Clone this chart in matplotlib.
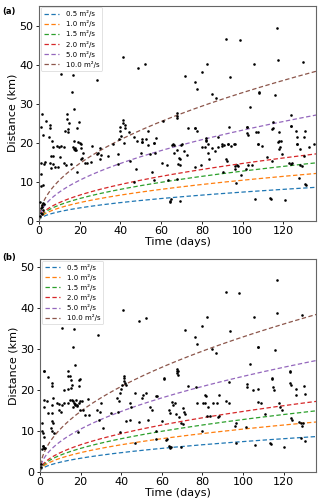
import numpy as np
import matplotlib
matplotlib.use("Agg")
import matplotlib.pyplot as plt

# Diffusivities (m^2/s) for the reference curves
diffusivities = [0.5, 1.0, 1.5, 2.0, 5.0, 10.0]
curve_labels = ["0.5 m²/s", "1.0 m²/s", "1.5 m²/s", "2.0 m²/s", "5.0 m²/s", "10.0 m²/s"]

# Panel (a) observations: time (days), distance (km)
a_time = [10.9, 16.5, 28.3, 16.2, 17.2, 1.5, 13.9, 3.4, 13.6, 5.5, 5.5, 14.7, 19.6, 18.8, 14.2, 12.8,
          14.4, 6.4, 17.2, 19.0, 20.3, 20.6, 41.4, 41.0, 42.0, 42.3, 39.7, 40.0, 44.3, 40.4, 39.4, 41.7,
          41.0, 48.7, 52.1, 116.9, 91.9, 98.6, 117.1, 129.6, 82.5, 105.8, 80.1, 71.5, 93.7, 76.7, 77.5,
          84.8, 86.8, 107.9, 107.9, 115.9, 103.6, 67.9, 67.9, 67.9, 61.1, 123.7, 114.8, 114.8, 123.7,
          73.1, 76.8, 93.3, 102.2, 53.3, 46.6, 50.7, 52.3, 50.4, 57.2, 56.6, 76.8, 77.8, 82.1, 82.1,
          88.1, 83.0, 65.9, 70.3, 102.0, 102.2, 102.8, 106.3, 107.6, 114.6, 117.6, 123.7, 126.4, 130.6,
          126.7, 130.3, 117.6, 118.7, 107.4, 89.8, 93.0, 95.8, 126.5,
          7.0, 8.7, 9.8, 10.9, 12.1, 16.5, 17.2, 17.5, 17.8, 18.2, 20.4, 21.4, 25.8, 30.1, 28.9, 30.4,
          38.7, 36.4, 5.7, 6.9, 10.5, 1.1, 2.5, 2.8, 5.4, 7.0, 7.7, 6.0, 9.3, 12.4, 13.2, 15.8, 18.8,
          22.7, 23.4, 25.6, 21.1, 20.4, 28.4, 29.8, 33.8, 38.7, 44.8, 2.1, 0.8, 1.2, 2.0, 5.0, 1.2,
          0.5, 0.8, 1.0, 1.3, 1.6, 1.9, 2.2, 2.5, 0.7, 1.4,
          47.9, 50.7, 53.6, 56.4, 65.1, 66.2, 69.6, 49.9, 54.4, 56.9, 66.4, 67.8, 68.5, 69.2, 71.0,
          72.7, 60.3, 62.8, 68.3, 69.2, 76.7, 79.6, 79.8, 81.3, 82.2, 84.8, 86.2, 87.8, 89.8, 90.9,
          83.0, 83.4, 47.4, 55.6, 56.7, 46.6, 63.5, 67.7, 64.4, 64.1, 65.0, 69.2,
          93.0, 94.2, 96.0, 107.4, 109.7, 117.2, 118.2, 117.6, 126.7, 127.9, 132.6, 134.9, 130.0,
          111.7, 114.4, 119.5, 91.7, 92.5, 96.3, 97.3, 97.9, 96.3, 102.8, 104.8, 101.7, 99.2, 122.9,
          124.1, 123.7, 128.3, 129.0, 90.4, 127.7, 130.6, 130.9, 96.6, 106.1, 113.4, 113.9, 120.6]
a_dist = [37.8, 37.5, 36.1, 33.0, 28.7, 27.4, 27.5, 25.7, 26.2, 24.5, 23.8, 25.1, 25.4, 23.9, 23.6, 23.0,
          22.8, 20.6, 20.6, 20.3, 20.0, 19.8, 25.9, 25.1, 24.6, 23.9, 24.0, 23.2, 22.9, 21.8, 21.0, 19.9,
          42.2, 39.4, 40.3, 49.6, 46.8, 46.4, 41.3, 40.8, 40.3, 40.3, 38.3, 37.3, 36.9, 35.6, 34.0,
          32.5, 31.6, 33.2, 32.9, 32.3, 29.2, 27.6, 27.0, 26.5, 25.7, 27.3, 25.4, 23.9, 24.3,
          23.9, 23.9, 24.0, 24.2, 23.1, 21.5, 21.1, 21.1, 20.3, 21.3, 20.1, 23.8, 23.0, 21.4, 20.8,
          21.5, 19.8, 19.7, 19.7, 24.1, 22.6, 22.1, 22.8, 22.8, 23.7, 22.8, 24.4, 23.0, 23.0,
          21.5, 21.5, 20.5, 20.5, 19.8, 19.7, 19.7, 19.7, 19.7,
          18.9, 19.2, 18.9, 19.3, 18.9, 19.0, 18.5, 18.3, 18.6, 18.2, 18.8, 17.5, 19.2, 18.7, 17.5, 17.0,
          17.1, 19.7, 16.7, 16.7, 16.5, 14.8, 14.6, 15.0, 14.8, 14.6, 13.9, 13.6, 13.9, 14.9, 14.4, 14.6, 12.4,
          14.8, 14.9, 15.1, 16.2, 15.8, 17.2, 16.0, 16.7, 14.7, 15.4, 9.1, 8.9, 24.0, 22.0, 21.5, 12.0,
          1.2, 2.0, 3.3, 4.0, 3.6, 4.5, 2.8, 4.2, 4.8, 1.6,
          20.6, 20.2, 19.6, 19.9, 19.6, 19.6, 19.5, 17.5, 17.2, 17.3, 17.3, 18.2, 16.2, 15.8, 17.9,
          17.0, 14.8, 14.3, 14.7, 14.3, 13.9, 14.3, 19.0, 18.9, 20.6, 18.6, 18.0, 19.0, 19.2, 19.6,
          17.5, 15.8, 13.2, 12.6, 10.5, 9.9, 10.5, 10.7, 5.1, 4.8, 5.7, 5.1,
          19.7, 19.2, 19.7, 19.7, 19.2, 20.3, 19.0, 18.5, 19.7, 18.5, 19.0, 19.7, 16.6,
          16.3, 15.4, 17.2, 15.9, 15.4, 14.1, 14.3, 14.1, 13.4, 14.4, 14.3, 13.3, 11.8, 14.8,
          14.9, 14.6, 14.3, 14.1, 12.4, 11.1, 9.4, 9.1, 9.8, 5.7, 5.8, 5.5, 5.2]

# Panel (b) observations: time (days), distance (km)
b_time = [116.6, 91.5, 98.2, 116.7, 129.3, 82.2, 105.4, 79.9, 71.6, 93.5, 76.5, 77.4, 84.6, 86.6,
          107.6, 107.6, 115.6, 103.5, 67.6, 67.6, 67.6, 60.9, 123.4, 114.4,
          11.0, 16.8, 28.5, 16.4, 17.3, 40.9, 48.6, 52.1, 2.0, 3.8, 14.0, 14.0, 19.6, 41.4,
          2.0, 5.9, 6.0, 2.1, 3.3, 6.5, 5.7, 8.2, 9.5, 10.6, 12.0, 13.6,
          15.0, 15.6, 16.2, 17.6, 16.6, 17.3, 18.0, 18.3, 19.1, 19.6, 20.6, 16.5, 17.0,
          11.8, 13.9, 15.2, 16.0, 15.3, 14.8, 19.2, 19.2,
          1.8, 0.8, 1.1, 1.5, 2.0, 1.7, 1.3, 1.8, 2.2, 2.7, 1.0, 0.5, 0.7,
          5.4, 6.1, 6.9, 4.1, 6.1, 9.5, 10.3, 5.7, 6.2, 18.7, 19.6, 21.0, 22.3, 24.2, 23.7,
          28.2, 29.5, 29.1, 31.1, 30.3, 35.2, 38.5, 39.6, 42.2, 38.0, 39.0,
          39.3, 40.1, 40.4, 41.7, 42.2, 41.2, 41.4, 44.5, 44.2, 44.7, 46.8, 46.8, 48.8, 50.4,
          50.8, 52.1, 53.4, 54.4, 57.0, 57.6, 55.3, 57.3, 57.0, 60.2, 60.9, 62.2, 62.5,
          64.1, 64.0, 64.6, 63.7, 63.5, 64.2, 65.5, 65.0, 66.7, 67.1, 68.3, 68.1, 68.1, 69.3,
          70.5, 71.0, 71.5, 69.6, 70.7, 73.0, 76.8, 77.6, 80.2, 81.5, 81.4, 82.0, 82.2, 83.8,
          79.9, 83.0, 85.1, 87.1, 88.1, 87.8, 88.4, 91.7, 93.0, 93.3, 96.6, 96.6, 95.9, 101.5,
          101.8, 102.1, 104.8, 107.2, 107.2, 108.9, 106.1, 110.8, 113.3, 113.8, 114.3, 114.6,
          115.4, 117.6, 118.2, 119.2, 120.0, 123.1, 123.1, 123.6, 123.6, 124.4, 126.1, 126.1,
          127.7, 128.7, 128.5, 130.7, 130.3, 130.7, 129.3, 129.7]
b_dist = [46.9, 43.9, 43.7, 38.8, 38.2, 37.7, 37.7, 35.7, 34.6, 34.4, 33.0, 31.3, 29.9, 29.1,
          30.6, 30.4, 29.7, 26.4, 25.1, 24.6, 24.2, 22.9, 24.7, 22.7,
          35.1, 34.9, 33.5, 30.4, 26.1, 39.5, 36.9, 37.5, 24.7, 23.1, 24.7, 23.5, 22.7, 23.3,
          24.6, 21.6, 21.0, 17.5, 17.4, 17.9, 16.3, 16.9, 16.6, 16.3, 16.9, 16.7,
          17.6, 17.5, 17.3, 17.5, 16.9, 16.6, 16.4, 16.1, 16.9, 17.4, 17.2, 15.9, 16.2,
          20.0, 20.1, 20.4, 21.2, 22.4, 23.4, 21.0, 22.4,
          15.7, 11.8, 10.0, 9.5, 8.5, 6.4, 6.2, 5.9, 5.7, 5.9, 5.5, 1.2, 2.0,
          10.6, 10.0, 9.4, 14.4, 14.3, 15.1, 14.6, 12.5, 12.0, 9.7, 15.1, 15.1, 13.9, 13.9, 17.7,
          15.1, 14.5, 12.6, 10.6, 16.7, 14.4, 14.7, 9.6, 12.5, 17.9, 17.2,
          19.2, 20.1, 21.2, 21.7, 21.3, 22.2, 23.0, 12.6, 16.7, 15.7, 19.3, 7.1, 12.2, 17.9,
          18.8, 19.2, 12.6, 15.9, 18.4, 18.5, 15.1, 9.9, 8.0, 12.4, 22.6, 7.8, 8.0,
          6.1, 5.7, 6.0, 6.3, 15.1, 14.3, 16.4, 17.0, 16.8, 14.0, 13.3, 24.5, 23.6, 6.0,
          15.5, 14.6, 14.0, 12.0, 11.7, 21.0, 20.6, 16.7, 16.7, 16.9, 18.7, 18.4, 13.6, 13.5,
          10.0, 15.7, 16.7, 16.9, 18.8, 13.3, 13.5, 17.4, 16.9, 22.0, 7.1, 11.8, 11.2, 11.0,
          21.5, 20.8, 20.0, 20.2, 17.1, 16.7, 6.5, 14.0, 6.9, 6.8, 22.8, 20.8,
          20.0, 16.7, 15.9, 15.1, 6.0, 24.3, 21.6, 21.3, 13.1, 12.6, 20.1, 18.8,
          12.2, 12.0, 8.2, 7.6, 21.0, 19.0, 11.2, 11.8]

colors = ["#1f77b4", "#ff7f0e", "#2ca02c", "#d62728", "#9467bd", "#8c564b"]

fig = plt.figure(figsize=(3.2, 5.03), dpi=100)
ax_a = fig.add_axes([0.1219, 0.5612, 0.8656, 0.4275])
ax_b = fig.add_axes([0.125, 0.0622, 0.8625, 0.4229])

t_days = np.linspace(0, 137, 400)
t_sec = t_days * 86400.0

def draw(ax, times, dists, ytop):
    for D, lab, c in zip(diffusivities, curve_labels, colors):
        L = np.sqrt(4 * np.pi * D * t_sec) / 1000.0
        ax.plot(t_days, L, linestyle=(0, (3.5, 2.0)), color=c, lw=0.9, label=lab)
    ax.scatter(times, dists, s=3.5, color="black", zorder=3, linewidths=0)
    ax.set_xlim(0, 136)
    ax.set_ylim(0, ytop)
    ax.set_xticks([0, 20, 40, 60, 80, 100, 120])
    ax.set_yticks([0, 10, 20, 30, 40, 50])
    ax.tick_params(labelsize=8, length=2.5, width=0.6, pad=1.5)
    ax.set_xlabel("Time (days)", fontsize=8, labelpad=0.5)
    ax.set_ylabel("Distance (km)", fontsize=8, labelpad=1)
    for sp in ax.spines.values():
        sp.set_color("#666666")
        sp.set_linewidth(0.8)
    leg = ax.legend(loc="upper left", fontsize=5, frameon=True, handlelength=2.2,
                    labelspacing=0.45, borderpad=0.4, handletextpad=1.0,
                    borderaxespad=0.25)
    leg.get_frame().set_linewidth(0.5)

draw(ax_a, a_time, a_dist, 55.3)
draw(ax_b, b_time, b_dist, 52.0)

fig.text(0.008, 0.987, "(a)", fontsize=6, fontweight="bold", va="top", ha="left")
fig.text(0.008, 0.497, "(b)", fontsize=6, fontweight="bold", va="top", ha="left")

fig.savefig("out.png", dpi=100)
